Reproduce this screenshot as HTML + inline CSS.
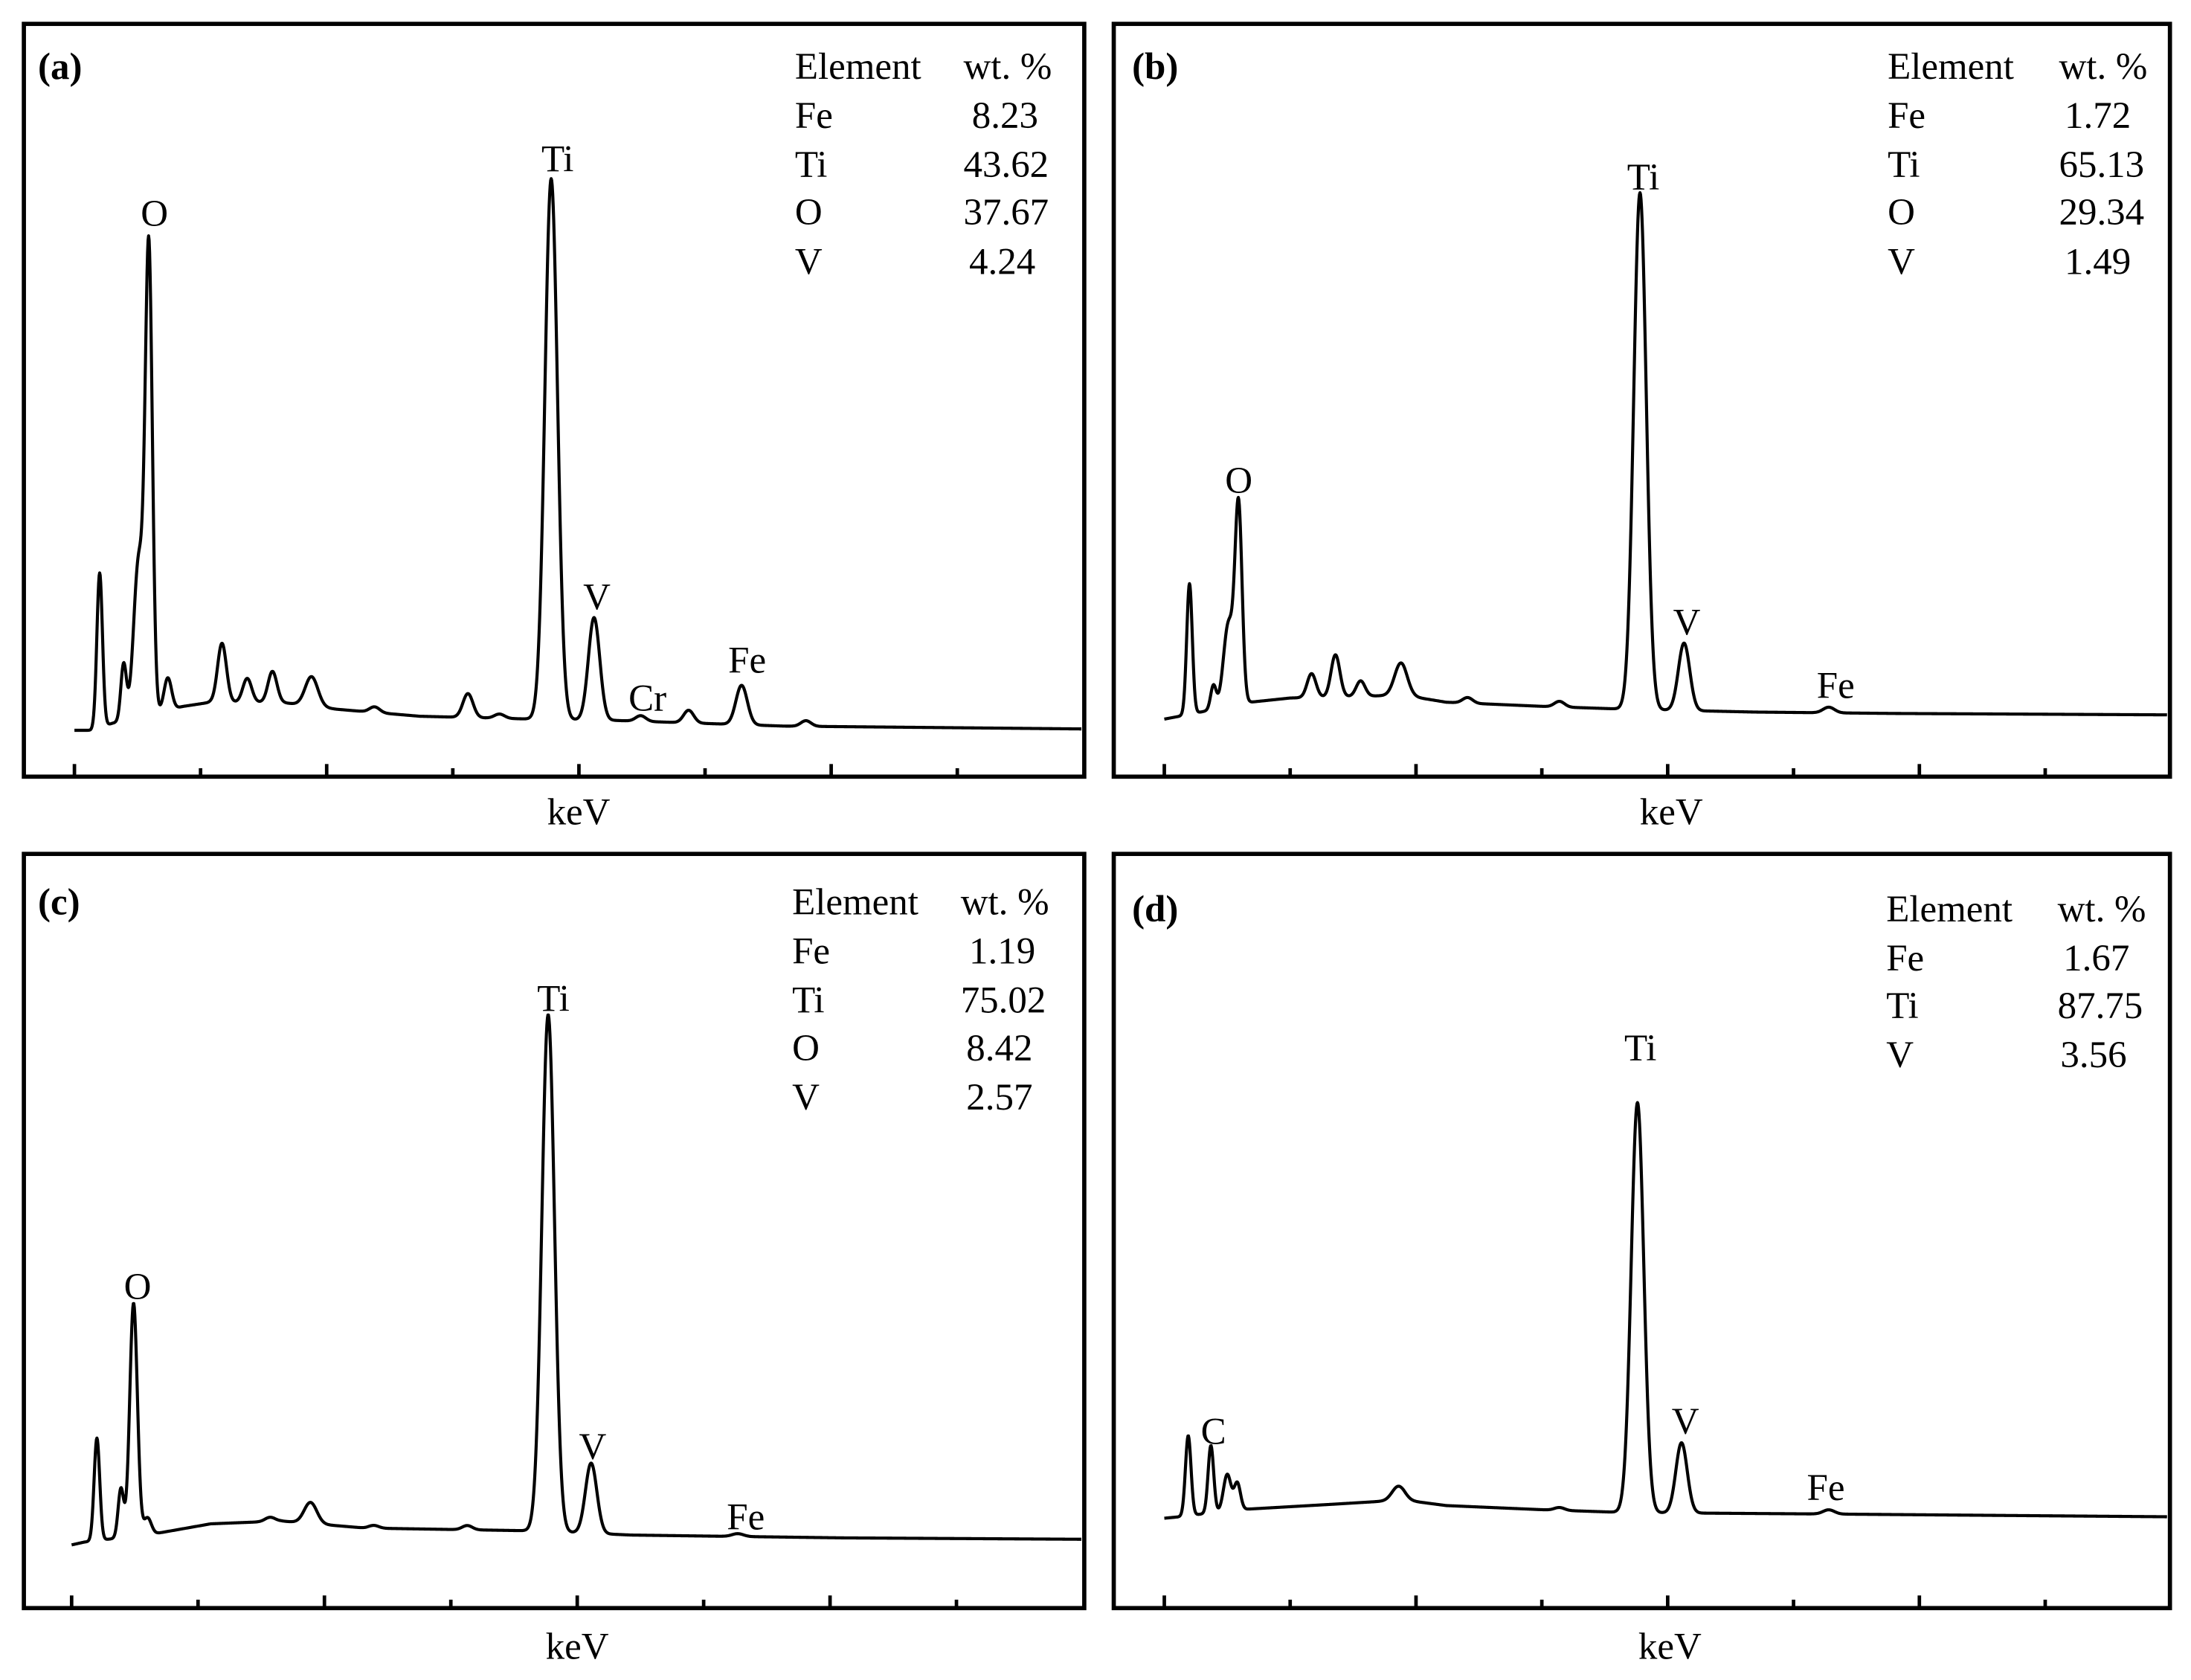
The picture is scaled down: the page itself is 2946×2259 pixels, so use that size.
<!DOCTYPE html>
<html><head><meta charset="utf-8">
<style>
html,body{margin:0;padding:0;background:#fff;}
svg{display:block;}
text{font-family:"Liberation Serif","Times New Roman",serif;fill:#000;}
</style></head>
<body>
<svg id="fig" width="2946" height="2259" viewBox="0 0 1560 1196.2" preserveAspectRatio="none" xmlns="http://www.w3.org/2000/svg">
<g font-size="27">
<!-- panel a -->
<text x="27" y="56" font-weight="bold">(a)</text>
<text x="566" y="56">Element</text>
<text x="686" y="56">wt. %</text>
<text x="566" y="91">Fe</text><text x="692" y="91">8.23</text>
<text x="566" y="126">Ti</text><text x="686" y="126">43.62</text>
<text x="566" y="160">O</text><text x="686" y="160">37.67</text>
<text x="566" y="195">V</text><text x="690" y="195">4.24</text>
<text x="110" y="161" text-anchor="middle">O</text>
<text x="397" y="122" text-anchor="middle">Ti</text>
<text x="425" y="434" text-anchor="middle">V</text>
<text x="461" y="506" text-anchor="middle">Cr</text>
<text x="532" y="479" text-anchor="middle">Fe</text>
<text x="412" y="587" text-anchor="middle">keV</text>
<!-- panel b -->
<text x="806" y="56" font-weight="bold">(b)</text>
<text x="1344" y="56">Element</text>
<text x="1466" y="56">wt. %</text>
<text x="1344" y="91">Fe</text><text x="1470" y="91">1.72</text>
<text x="1344" y="126">Ti</text><text x="1466" y="126">65.13</text>
<text x="1344" y="160">O</text><text x="1466" y="160">29.34</text>
<text x="1344" y="195">V</text><text x="1470" y="195">1.49</text>
<text x="882" y="351" text-anchor="middle">O</text>
<text x="1170" y="135" text-anchor="middle">Ti</text>
<text x="1201" y="452" text-anchor="middle">V</text>
<text x="1307" y="497" text-anchor="middle">Fe</text>
<text x="1190" y="587" text-anchor="middle">keV</text>
<!-- panel c -->
<text x="27" y="651" font-weight="bold">(c)</text>
<text x="564" y="651">Element</text>
<text x="684" y="651">wt. %</text>
<text x="564" y="686">Fe</text><text x="690" y="686">1.19</text>
<text x="564" y="721">Ti</text><text x="684" y="721">75.02</text>
<text x="564" y="755">O</text><text x="688" y="755">8.42</text>
<text x="564" y="790">V</text><text x="688" y="790">2.57</text>
<text x="98" y="925" text-anchor="middle">O</text>
<text x="394" y="720" text-anchor="middle">Ti</text>
<text x="422" y="1039" text-anchor="middle">V</text>
<text x="531" y="1089" text-anchor="middle">Fe</text>
<text x="411" y="1181" text-anchor="middle">keV</text>
<!-- panel d -->
<text x="806" y="656" font-weight="bold">(d)</text>
<text x="1343" y="656">Element</text>
<text x="1465" y="656">wt. %</text>
<text x="1343" y="691">Fe</text><text x="1469" y="691">1.67</text>
<text x="1343" y="725">Ti</text><text x="1465" y="725">87.75</text>
<text x="1343" y="760">V</text><text x="1467" y="760">3.56</text>
<text x="864" y="1028" text-anchor="middle">C</text>
<text x="1168" y="755" text-anchor="middle">Ti</text>
<text x="1200" y="1021" text-anchor="middle">V</text>
<text x="1300" y="1068" text-anchor="middle">Fe</text>
<text x="1189" y="1181" text-anchor="middle">keV</text>
</g>
</svg>
<script>
// Panel a
const bgEA=[0,0.13,0.30,0.86,1.08,1.63,2.08,2.74,3.63,4.30,5.63,7.97];
const bgCA=[5,5,10,22,25,25,20,15,13,12,8,6];
const pkEA=[0.20,0.39,0.51,0.59,0.74,1.17,1.37,1.57,1.88,2.38,3.12,3.37,3.78,4.12,4.49,4.87,5.29,5.80];
const pkHA=[110,40,112,325,23,42,17,22,21,4,17,3,385,73,4,9,28,4];
const pkSA=[0.022,0.022,0.04,0.028,0.03,0.035,0.035,0.035,0.05,0.04,0.04,0.04,0.05,0.045,0.04,0.04,0.045,0.04];
// Panel b
const bgEB=[0,0.12,0.68,1.0,1.9,2.24,3.02,3.68,4.69,5.8,8.0];
const bgCB=[3,5,15,18,20,15,12,10,8,7,6];
const pkEB=[0.20,0.39,0.51,0.59,1.17,1.36,1.56,1.88,2.41,3.14,3.78,4.13,5.28];
const pkHB=[93,17,59,139,17,30,11,23,4,4,368,48,4];
const pkSB=[0.022,0.022,0.04,0.028,0.035,0.035,0.035,0.05,0.04,0.04,0.05,0.045,0.045];
// Panel c
const bgEC=[0,0.1,0.66,1.1,1.66,2.32,3.66,4.43,6.1,8.0];
const bgCC=[2,4,10,17,19,14,12,9,7,6];
const pkEC=[0.20,0.39,0.49,0.60,1.57,1.89,2.39,3.13,3.77,4.11,5.27];
const pkHC=[73,35,166,12,3,15,2,3,368,50,2];
const pkSC=[0.022,0.022,0.03,0.03,0.04,0.05,0.04,0.04,0.05,0.045,0.045];
// Panel d
const bgED=[0,0.12,0.57,1.35,1.9,2.24,3.02,3.68,5.25,8.0];
const bgCD=[2,3,8,12,15,11,8,6,5,3];
const pkED=[0.19,0.37,0.50,0.58,1.86,3.14,3.76,4.11,5.28];
const pkHD=[57,48,26,19,10,2,292,50,3];
const pkSD=[0.022,0.022,0.03,0.025,0.05,0.04,0.05,0.045,0.045];
// Tick values (keV units, arbitrary axis)
const tickVals=[0,1,2,3,4,5,6,7];

const panels=[
 {id:'a',fx:17,fy:17,fw:755,fh:536,t0:53,sp:89.8,zeroY:525,bgE:bgEA,bgC:bgCA,pE:pkEA,pH:pkHA,pS:pkSA},
 {id:'b',fx:793,fy:17,fw:752,fh:536,t0:829,sp:89.6,zeroY:515,bgE:bgEB,bgC:bgCB,pE:pkEB,pH:pkHB,pS:pkSB},
 {id:'c',fx:17,fy:608,fw:755,fh:537,t0:51,sp:90,zeroY:1102,bgE:bgEC,bgC:bgCC,pE:pkEC,pH:pkHC,pS:pkSC},
 {id:'d',fx:793,fy:608,fw:752,fh:537,t0:829,sp:89.6,zeroY:1083,bgE:bgED,bgC:bgCD,pE:pkED,pH:pkHD,pS:pkSD}
];
const NS='http://www.w3.org/2000/svg';
const svg=document.getElementById('fig');
function bgAt(p,e){
  const E=p.bgE,C=p.bgC;
  if(e<=E[0])return C[0];
  for(let i=1;i<E.length;i++){ if(e<=E[i]){const t=(e-E[i-1])/(E[i]-E[i-1]);return C[i-1]+t*(C[i]-C[i-1]);} }
  return C[C.length-1];
}
panels.forEach(p=>{
  const xS=e=>p.t0+e*p.sp;
  const yS=c=>p.zeroY-c;
  const g=document.createElementNS(NS,'g');
  
  
  svg.appendChild(g);
  const r=document.createElementNS(NS,'rect');
  r.setAttribute('x',p.fx);r.setAttribute('y',p.fy);r.setAttribute('width',p.fw);r.setAttribute('height',p.fh);
  r.setAttribute('fill','none');r.setAttribute('stroke','#000');r.setAttribute('stroke-width','3');
  
  
  g.appendChild(r);
  const bot=p.fy+p.fh;
  tickVals.forEach((v,i)=>{
    const l=document.createElementNS(NS,'line');
    const x=xS(v);
    l.setAttribute('x1',x);l.setAttribute('x2',x);
    l.setAttribute('y1',bot);l.setAttribute('y2',bot-(i%2===0?9:6));
    l.setAttribute('stroke','#000');l.setAttribute('stroke-width','2.5');
    
    
    g.appendChild(l);
  });
  const eMax=(p.fx+p.fw-2-p.t0)/p.sp;
  let d='';
  for(let e=0;e<=eMax;e+=0.004){
    let c=bgAt(p,e);
    for(let k=0;k<p.pE.length;k++){const z=(e-p.pE[k])/p.pS[k];if(Math.abs(z)<6)c+=p.pH[k]*Math.exp(-0.5*z*z);}
    d+=(d?'L':'M')+xS(e).toFixed(2)+' '+yS(c).toFixed(2);
  }
  const path=document.createElementNS(NS,'path');
  path.setAttribute('d',d);path.setAttribute('fill','none');path.setAttribute('stroke','#000');
  path.setAttribute('stroke-width','2.2');path.setAttribute('stroke-linejoin','round');
  
  
  g.appendChild(path);
});
</script>
</body></html>
